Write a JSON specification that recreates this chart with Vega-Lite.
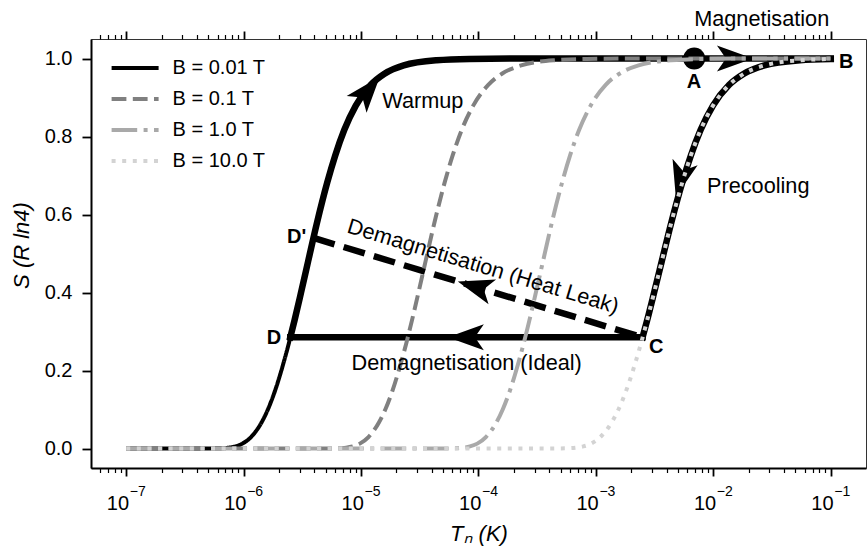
{
  "$schema": "https://vega.github.io/schema/vega-lite/v6.json",
  "width": 775,
  "height": 429,
  "autosize": {"type": "none"},
  "padding": {"left": 91, "top": 39, "right": 2, "bottom": 81},
  "config": {
    "font": "Liberation Sans",
    "view": {"stroke": "#333333", "strokeWidth": 1}
  },
  "datasets": {
    "curves": [
      {"B": "B = 0.01 T", "T": 1e-7, "S": 0},
      {"B": "B = 0.01 T", "T": 3.186e-7, "S": 0},
      {"B": "B = 0.01 T", "T": 6.070e-7, "S": 0.0004},
      {"B": "B = 0.01 T", "T": 7.469e-7, "S": 0.0022},
      {"B": "B = 0.01 T", "T": 8.458e-7, "S": 0.0053},
      {"B": "B = 0.01 T", "T": 9.765e-7, "S": 0.0125},
      {"B": "B = 0.01 T", "T": 1.1562e-6, "S": 0.0294},
      {"B": "B = 0.01 T", "T": 1.4229e-6, "S": 0.0672},
      {"B": "B = 0.01 T", "T": 1.6113e-6, "S": 0.1007},
      {"B": "B = 0.01 T", "T": 1.8606e-6, "S": 0.1502},
      {"B": "B = 0.01 T", "T": 2.2031e-6, "S": 0.2231},
      {"B": "B = 0.01 T", "T": 2.431e-6, "S": 0.2707},
      {"B": "B = 0.01 T", "T": 2.712e-6, "S": 0.3285},
      {"B": "B = 0.01 T", "T": 3.0704e-6, "S": 0.3979},
      {"B": "B = 0.01 T", "T": 3.544e-6, "S": 0.4804},
      {"B": "B = 0.01 T", "T": 4.1976e-6, "S": 0.577},
      {"B": "B = 0.01 T", "T": 5.167e-6, "S": 0.6836},
      {"B": "B = 0.01 T", "T": 6.015e-6, "S": 0.7508},
      {"B": "B = 0.01 T", "T": 7.201e-6, "S": 0.8172},
      {"B": "B = 0.01 T", "T": 9.016e-6, "S": 0.8792},
      {"B": "B = 0.01 T", "T": 1.211e-5, "S": 0.9325},
      {"B": "B = 0.01 T", "T": 1.583e-5, "S": 0.9609},
      {"B": "B = 0.01 T", "T": 2.308e-5, "S": 0.9823},
      {"B": "B = 0.01 T", "T": 4.398e-5, "S": 0.9955},
      {"B": "B = 0.01 T", "T": 8.377e-5, "S": 0.9989},
      {"B": "B = 0.01 T", "T": 1.965e-4, "S": 0.9998},
      {"B": "B = 0.01 T", "T": 0.1, "S": 1.0},

      {"B": "B = 0.1 T", "T": 1e-7, "S": 0},
      {"B": "B = 0.1 T", "T": 3.186e-6, "S": 0},
      {"B": "B = 0.1 T", "T": 6.070e-6, "S": 0.0004},
      {"B": "B = 0.1 T", "T": 7.469e-6, "S": 0.0022},
      {"B": "B = 0.1 T", "T": 8.458e-6, "S": 0.0053},
      {"B": "B = 0.1 T", "T": 9.765e-6, "S": 0.0125},
      {"B": "B = 0.1 T", "T": 1.1562e-5, "S": 0.0294},
      {"B": "B = 0.1 T", "T": 1.4229e-5, "S": 0.0672},
      {"B": "B = 0.1 T", "T": 1.6113e-5, "S": 0.1007},
      {"B": "B = 0.1 T", "T": 1.8606e-5, "S": 0.1502},
      {"B": "B = 0.1 T", "T": 2.2031e-5, "S": 0.2231},
      {"B": "B = 0.1 T", "T": 2.431e-5, "S": 0.2707},
      {"B": "B = 0.1 T", "T": 2.712e-5, "S": 0.3285},
      {"B": "B = 0.1 T", "T": 3.0704e-5, "S": 0.3979},
      {"B": "B = 0.1 T", "T": 3.544e-5, "S": 0.4804},
      {"B": "B = 0.1 T", "T": 4.1976e-5, "S": 0.577},
      {"B": "B = 0.1 T", "T": 5.167e-5, "S": 0.6836},
      {"B": "B = 0.1 T", "T": 6.015e-5, "S": 0.7508},
      {"B": "B = 0.1 T", "T": 7.201e-5, "S": 0.8172},
      {"B": "B = 0.1 T", "T": 9.016e-5, "S": 0.8792},
      {"B": "B = 0.1 T", "T": 1.211e-4, "S": 0.9325},
      {"B": "B = 0.1 T", "T": 1.583e-4, "S": 0.9609},
      {"B": "B = 0.1 T", "T": 2.308e-4, "S": 0.9823},
      {"B": "B = 0.1 T", "T": 4.398e-4, "S": 0.9955},
      {"B": "B = 0.1 T", "T": 8.377e-4, "S": 0.9989},
      {"B": "B = 0.1 T", "T": 1.965e-3, "S": 0.9998},
      {"B": "B = 0.1 T", "T": 0.1, "S": 1.0},

      {"B": "B = 1.0 T", "T": 1e-7, "S": 0},
      {"B": "B = 1.0 T", "T": 3.186e-5, "S": 0},
      {"B": "B = 1.0 T", "T": 6.070e-5, "S": 0.0004},
      {"B": "B = 1.0 T", "T": 7.469e-5, "S": 0.0022},
      {"B": "B = 1.0 T", "T": 8.458e-5, "S": 0.0053},
      {"B": "B = 1.0 T", "T": 9.765e-5, "S": 0.0125},
      {"B": "B = 1.0 T", "T": 1.1562e-4, "S": 0.0294},
      {"B": "B = 1.0 T", "T": 1.4229e-4, "S": 0.0672},
      {"B": "B = 1.0 T", "T": 1.6113e-4, "S": 0.1007},
      {"B": "B = 1.0 T", "T": 1.8606e-4, "S": 0.1502},
      {"B": "B = 1.0 T", "T": 2.2031e-4, "S": 0.2231},
      {"B": "B = 1.0 T", "T": 2.431e-4, "S": 0.2707},
      {"B": "B = 1.0 T", "T": 2.712e-4, "S": 0.3285},
      {"B": "B = 1.0 T", "T": 3.0704e-4, "S": 0.3979},
      {"B": "B = 1.0 T", "T": 3.544e-4, "S": 0.4804},
      {"B": "B = 1.0 T", "T": 4.1976e-4, "S": 0.577},
      {"B": "B = 1.0 T", "T": 5.167e-4, "S": 0.6836},
      {"B": "B = 1.0 T", "T": 6.015e-4, "S": 0.7508},
      {"B": "B = 1.0 T", "T": 7.201e-4, "S": 0.8172},
      {"B": "B = 1.0 T", "T": 9.016e-4, "S": 0.8792},
      {"B": "B = 1.0 T", "T": 1.211e-3, "S": 0.9325},
      {"B": "B = 1.0 T", "T": 1.583e-3, "S": 0.9609},
      {"B": "B = 1.0 T", "T": 2.308e-3, "S": 0.9823},
      {"B": "B = 1.0 T", "T": 4.398e-3, "S": 0.9955},
      {"B": "B = 1.0 T", "T": 8.377e-3, "S": 0.9989},
      {"B": "B = 1.0 T", "T": 1.965e-2, "S": 0.9998},
      {"B": "B = 1.0 T", "T": 0.1, "S": 1.0},

      {"B": "B = 10.0 T", "T": 1e-7, "S": 0},
      {"B": "B = 10.0 T", "T": 2.729e-4, "S": 0},
      {"B": "B = 10.0 T", "T": 5.458e-4, "S": 0.0004},
      {"B": "B = 10.0 T", "T": 6.823e-4, "S": 0.0022},
      {"B": "B = 10.0 T", "T": 7.798e-4, "S": 0.0053},
      {"B": "B = 10.0 T", "T": 9.099e-4, "S": 0.0125},
      {"B": "B = 10.0 T", "T": 1.0914e-3, "S": 0.0294},
      {"B": "B = 10.0 T", "T": 1.3646e-3, "S": 0.0672},
      {"B": "B = 10.0 T", "T": 1.5596e-3, "S": 0.1007},
      {"B": "B = 10.0 T", "T": 1.8197e-3, "S": 0.1502},
      {"B": "B = 10.0 T", "T": 2.1827e-3, "S": 0.2231},
      {"B": "B = 10.0 T", "T": 2.4266e-3, "S": 0.2707},
      {"B": "B = 10.0 T", "T": 2.729e-3, "S": 0.3285},
      {"B": "B = 10.0 T", "T": 3.1189e-3, "S": 0.3979},
      {"B": "B = 10.0 T", "T": 3.6392e-3, "S": 0.4804},
      {"B": "B = 10.0 T", "T": 4.3652e-3, "S": 0.577},
      {"B": "B = 10.0 T", "T": 5.4576e-3, "S": 0.6836},
      {"B": "B = 10.0 T", "T": 6.4269e-3, "S": 0.7508},
      {"B": "B = 10.0 T", "T": 7.7983e-3, "S": 0.8172},
      {"B": "B = 10.0 T", "T": 9.931e-3, "S": 0.8792},
      {"B": "B = 10.0 T", "T": 1.3646e-2, "S": 0.9325},
      {"B": "B = 10.0 T", "T": 1.8197e-2, "S": 0.9609},
      {"B": "B = 10.0 T", "T": 2.729e-2, "S": 0.9823},
      {"B": "B = 10.0 T", "T": 5.4576e-2, "S": 0.9955},
      {"B": "B = 10.0 T", "T": 0.1, "S": 0.9987}
    ],
    "paths": [
      {"seg": "warm", "T": 2.496e-6, "S": 0.285},
      {"seg": "warm", "T": 2.712e-6, "S": 0.3285},
      {"seg": "warm", "T": 3.0704e-6, "S": 0.3979},
      {"seg": "warm", "T": 3.544e-6, "S": 0.4804},
      {"seg": "warm", "T": 4.1976e-6, "S": 0.577},
      {"seg": "warm", "T": 5.167e-6, "S": 0.6836},
      {"seg": "warm", "T": 6.015e-6, "S": 0.7508},
      {"seg": "warm", "T": 7.201e-6, "S": 0.8172},
      {"seg": "warm", "T": 9.016e-6, "S": 0.8792},
      {"seg": "warm", "T": 1.211e-5, "S": 0.9325},
      {"seg": "warm", "T": 1.583e-5, "S": 0.9609},
      {"seg": "warm", "T": 2.308e-5, "S": 0.9823},
      {"seg": "warm", "T": 4.398e-5, "S": 0.9955},
      {"seg": "warm", "T": 8.377e-5, "S": 0.9989},
      {"seg": "warm", "T": 1.965e-4, "S": 0.9998},
      {"seg": "warm", "T": 0.1, "S": 1.0},
      {"seg": "precool", "T": 2.494e-3, "S": 0.285},
      {"seg": "precool", "T": 2.729e-3, "S": 0.3285},
      {"seg": "precool", "T": 3.1189e-3, "S": 0.3979},
      {"seg": "precool", "T": 3.6392e-3, "S": 0.4804},
      {"seg": "precool", "T": 4.3652e-3, "S": 0.577},
      {"seg": "precool", "T": 5.4576e-3, "S": 0.6836},
      {"seg": "precool", "T": 6.4269e-3, "S": 0.7508},
      {"seg": "precool", "T": 7.7983e-3, "S": 0.8172},
      {"seg": "precool", "T": 9.931e-3, "S": 0.8792},
      {"seg": "precool", "T": 1.3646e-2, "S": 0.9325},
      {"seg": "precool", "T": 1.8197e-2, "S": 0.9609},
      {"seg": "precool", "T": 2.729e-2, "S": 0.9823},
      {"seg": "precool", "T": 5.4576e-2, "S": 0.9955},
      {"seg": "precool", "T": 0.1, "S": 0.9987},
      {"seg": "ideal", "T": 2.496e-6, "S": 0.285},
      {"seg": "ideal", "T": 2.494e-3, "S": 0.285}
    ],
    "leak": [
      {"T": 3.934e-6, "S": 0.54},
      {"T": 2.494e-3, "S": 0.285}
    ],
    "arrows": [
      {"arrow": "warm", "T": 1.15e-5, "S": 0.918},
      {"arrow": "magnet", "T": 0.01528, "S": 1.0},
      {"arrow": "precool", "T": 5.243e-3, "S": 0.69},
      {"arrow": "leak", "T": 9.35e-5, "S": 0.415},
      {"arrow": "ideal", "T": 7.8e-5, "S": 0.285}
    ],
    "points": [
      {"T": 6.87e-3, "S": 1.0}
    ],
    "letters": [
      {"label": "A", "T": 6.83e-3, "S": 0.9236},
      {"label": "B", "T": 0.1354, "S": 0.9749},
      {"label": "C", "T": 3.27e-3, "S": 0.2441},
      {"label": "D", "T": 1.815e-6, "S": 0.2672},
      {"label": "D'", "T": 2.829e-6, "S": 0.5262}
    ],
    "notes": [
      {"label": "Magnetisation", "T": 0.0258, "S": 1.0841},
      {"label": "Warmup", "T": 3.353e-5, "S": 0.8723},
      {"label": "Precooling", "T": 0.0241, "S": 0.6544},
      {"label": "Demagnetisation (Ideal)", "T": 7.93e-5, "S": 0.2013}
    ],
    "leaknote": [
      {"label": "Demagnetisation (Heat Leak)", "T": 1.052e-4, "S": 0.45}
    ]
  },
  "encoding": {
    "x": {"field": "T", "type": "quantitative", "scale": {"type": "log", "domain": [5.012e-8, 0.19953], "nice": false}, "axis": null},
    "y": {
      "field": "S", "type": "quantitative",
      "scale": {"domain": [-0.05, 1.05], "nice": false, "zero": false},
      "axis": {
        "values": [0, 0.2, 0.4, 0.6, 0.8, 1.0], "format": ".1f",
        "tickSize": 9, "tickWidth": 1.8, "tickColor": "black",
        "domainColor": "black", "domainWidth": 2,
        "labelFontSize": 20, "labelColor": "black", "labelPadding": 10, "labelFlush": false, "labelOverlap": false,
        "grid": false,
        "title": "S (R ln4)", "titleFontSize": 22, "titleFontWeight": "normal", "titleFontStyle": "italic", "titleColor": "black",
        "titleX": -63, "titleY": 206, "titleBaseline": "alphabetic", "titleAngle": -90, "titleAlign": "center"
      }
    }
  },
  "layer": [
    {
      "data": {"name": "paths"},
      "mark": {"type": "line", "color": "black", "strokeWidth": 6.5, "interpolate": "monotone", "strokeCap": "square", "strokeJoin": "round"},
      "encoding": {
        "x": {
          "field": "T", "type": "quantitative",
          "scale": {"type": "log", "domain": [5.012e-8, 0.19953], "nice": false},
          "axis": {
            "orient": "top",
            "values": [6e-8, 7e-8, 8e-8, 9e-8, 1e-7, 2e-7, 3e-7, 4e-7, 5e-7, 6e-7, 7e-7, 8e-7, 9e-7, 1e-6, 2e-6, 3e-6, 4e-6, 5e-6, 6e-6, 7e-6, 8e-6, 9e-6, 1e-5, 2e-5, 3e-5, 4e-5, 5e-5, 6e-5, 7e-5, 8e-5, 9e-5, 1e-4, 2e-4, 3e-4, 4e-4, 5e-4, 6e-4, 7e-4, 8e-4, 9e-4, 1e-3, 2e-3, 3e-3, 4e-3, 5e-3, 6e-3, 7e-3, 8e-3, 9e-3, 1e-2, 2e-2, 3e-2, 4e-2, 5e-2, 6e-2, 7e-2, 8e-2, 9e-2, 1e-1],
            "domain": false, "labels": false, "grid": false, "title": null,
            "tickColor": "black",
            "tickSize": {"condition": {"test": "abs(log(datum.value)/LN10 - round(log(datum.value)/LN10)) < 0.001", "value": 8}, "value": 4.5},
            "tickWidth": {"condition": {"test": "abs(log(datum.value)/LN10 - round(log(datum.value)/LN10)) < 0.001", "value": 1.8}, "value": 1.2}
          }
        },
        "detail": {"field": "seg"}
      }
    },
    {
      "data": {"name": "leak"},
      "mark": {"type": "line", "color": "black", "strokeWidth": 6.5, "strokeDash": [22, 9.5], "strokeCap": "butt"},
      "encoding": {
        "x": {
          "field": "T", "type": "quantitative",
          "scale": {"type": "log", "domain": [5.012e-8, 0.19953], "nice": false},
          "axis": {
            "orient": "bottom",
            "values": [1e-7, 1e-6, 1e-5, 1e-4, 1e-3, 1e-2, 1e-1],
            "labelExpr": "'−' + round(-log(datum.value)/LN10)",
            "domain": false, "ticks": false, "tickSize": 0, "grid": false, "title": null,
            "labelFontSize": 14, "labelColor": "black", "labelAlign": "left", "labelBaseline": "alphabetic",
            "labelOffset": 3, "labelPadding": 27, "labelFlush": false, "labelOverlap": false
          }
        }
      }
    },
    {
      "data": {"name": "points"},
      "mark": {"type": "point", "shape": "circle", "size": 484, "filled": true, "color": "black", "opacity": 1}
    },
    {
      "data": {"name": "arrows"},
      "transform": [{"filter": "datum.arrow == 'warm'"}],
      "mark": {"type": "point", "shape": "M1,0L-1,-0.72L-0.5,0L-1,0.72Z", "size": 1300, "filled": true, "color": "black", "opacity": 1, "angle": 310}
    },
    {
      "data": {"name": "arrows"},
      "transform": [{"filter": "datum.arrow == 'magnet'"}],
      "mark": {"type": "point", "shape": "M1,0L-1,-0.72L-0.5,0L-1,0.72Z", "size": 1300, "filled": true, "color": "black", "opacity": 1, "angle": 0}
    },
    {
      "data": {"name": "arrows"},
      "transform": [{"filter": "datum.arrow == 'precool'"}],
      "mark": {"type": "point", "shape": "M1,0L-1,-0.72L-0.5,0L-1,0.72Z", "size": 1300, "filled": true, "color": "black", "opacity": 1, "angle": 105}
    },
    {
      "data": {"name": "arrows"},
      "transform": [{"filter": "datum.arrow == 'leak'"}],
      "mark": {"type": "point", "shape": "M1,0L-1,-0.72L-0.5,0L-1,0.72Z", "size": 1300, "filled": true, "color": "black", "opacity": 1, "angle": 196.8}
    },
    {
      "data": {"name": "arrows"},
      "transform": [{"filter": "datum.arrow == 'ideal'"}],
      "mark": {"type": "point", "shape": "M1,0L-1,-0.72L-0.5,0L-1,0.72Z", "size": 1300, "filled": true, "color": "black", "opacity": 1, "angle": 180}
    },
    {
      "data": {"name": "curves"},
      "mark": {"type": "line", "strokeWidth": 4, "interpolate": "monotone", "strokeCap": "butt"},
      "encoding": {
        "x": {
          "field": "T", "type": "quantitative",
          "scale": {"type": "log", "domain": [5.012e-8, 0.19953], "nice": false},
          "axis": {
            "orient": "bottom",
            "values": [6e-8, 7e-8, 8e-8, 9e-8, 1e-7, 2e-7, 3e-7, 4e-7, 5e-7, 6e-7, 7e-7, 8e-7, 9e-7, 1e-6, 2e-6, 3e-6, 4e-6, 5e-6, 6e-6, 7e-6, 8e-6, 9e-6, 1e-5, 2e-5, 3e-5, 4e-5, 5e-5, 6e-5, 7e-5, 8e-5, 9e-5, 1e-4, 2e-4, 3e-4, 4e-4, 5e-4, 6e-4, 7e-4, 8e-4, 9e-4, 1e-3, 2e-3, 3e-3, 4e-3, 5e-3, 6e-3, 7e-3, 8e-3, 9e-3, 1e-2, 2e-2, 3e-2, 4e-2, 5e-2, 6e-2, 7e-2, 8e-2, 9e-2, 1e-1],
            "labelExpr": "abs(log(datum.value)/LN10 - round(log(datum.value)/LN10)) < 0.001 ? '10' : ''",
            "domainColor": "black", "domainWidth": 2, "grid": false,
            "tickColor": "black",
            "tickSize": {"condition": {"test": "abs(log(datum.value)/LN10 - round(log(datum.value)/LN10)) < 0.001", "value": 8}, "value": 4.5},
            "tickWidth": {"condition": {"test": "abs(log(datum.value)/LN10 - round(log(datum.value)/LN10)) < 0.001", "value": 1.8}, "value": 1.2},
            "labelFontSize": 20, "labelColor": "black", "labelAlign": "right", "labelOffset": 2.3, "labelBaseline": "alphabetic", "labelPadding": 33, "labelFlush": false, "labelOverlap": false,
            "title": "Tₙ (K)", "titleFontSize": 22, "titleFontWeight": "normal", "titleFontStyle": "italic", "titleColor": "black",
            "titleY": 72, "titleBaseline": "alphabetic"
          }
        },
        "color": {
          "field": "B", "type": "nominal",
          "scale": {"domain": ["B = 0.01 T", "B = 0.1 T", "B = 1.0 T", "B = 10.0 T"], "range": ["#000000", "#808080", "#a9a9a9", "#d3d3d3"]},
          "legend": {"orient": "none", "legendX": 18.6, "legendY": 19, "title": null, "symbolType": "stroke", "symbolSize": 2209, "symbolStrokeWidth": 4, "labelFontSize": 20, "labelOffset": 12, "labelColor": "black", "rowPadding": 11, "clipHeight": 20, "padding": 0}
        },
        "strokeDash": {
          "field": "B", "type": "nominal",
          "scale": {"domain": ["B = 0.01 T", "B = 0.1 T", "B = 1.0 T", "B = 10.0 T"], "range": [[1, 0], [14.8, 6.4], [25.6, 6.4, 4, 6.4], [4, 6.6]]},
          "legend": {"orient": "none", "legendX": 18.6, "legendY": 19, "title": null, "symbolType": "stroke", "symbolSize": 2209, "symbolStrokeWidth": 4, "labelFontSize": 20, "labelOffset": 12, "labelColor": "black", "rowPadding": 11, "clipHeight": 20, "padding": 0}
        }
      }
    },
    {
      "data": {"name": "letters"},
      "mark": {"type": "text", "font": "Liberation Sans", "fontSize": 20, "fontWeight": "bold", "align": "center", "baseline": "alphabetic", "color": "black"},
      "encoding": {"text": {"field": "label"}}
    },
    {
      "data": {"name": "notes"},
      "mark": {"type": "text", "font": "Liberation Sans", "fontSize": 21.7, "align": "center", "baseline": "alphabetic", "color": "black"},
      "encoding": {"text": {"field": "label"}}
    },
    {
      "data": {"name": "leaknote"},
      "mark": {"type": "text", "font": "Liberation Sans", "fontSize": 21.7, "align": "center", "baseline": "alphabetic", "color": "black", "angle": 16.8},
      "encoding": {"text": {"field": "label"}}
    }
  ],
  "resolve": {"axis": {"x": "independent"}}
}
